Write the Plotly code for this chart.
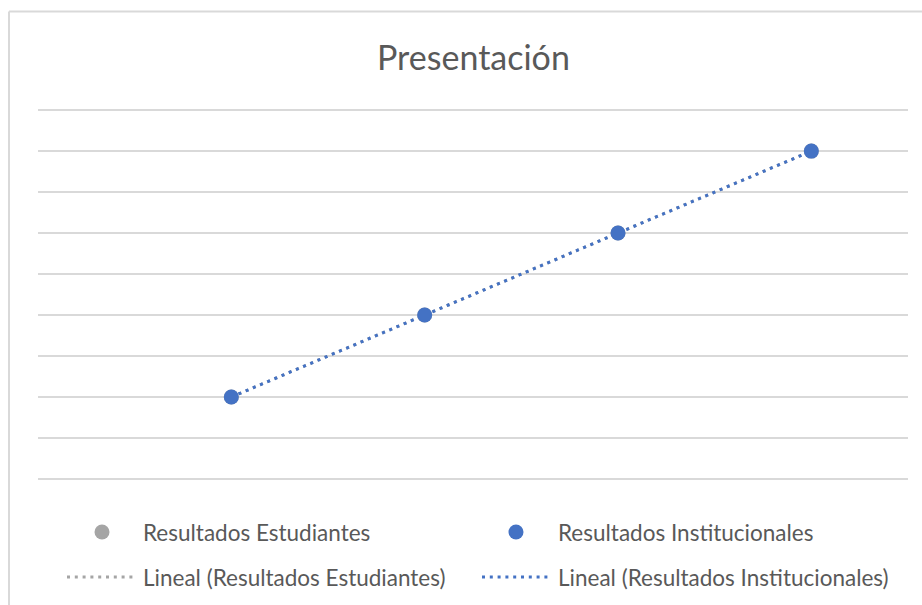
import numpy as np
import plotly.graph_objects as go

# Series data
x_vals = [1, 2, 3, 4]
estudiantes = [2, 4, 6, 8]
institucionales = [2, 4, 6, 8]

title_text = "Presentación"
series_names = ["Resultados Estudiantes", "Resultados Institucionales"]
trend_names = ["Lineal (Resultados Estudiantes)", "Lineal (Resultados Institucionales)"]

GREY = "#A5A5A5"
BLUE = "#4472C4"
TEXT = "#595959"
GRID = "#D9D9D9"
FONT = "Lato"

W, H = 922, 605
Y_TOP = 9.1
ML, MR, MT, MB = 38, 14, 106, 126
PW, PH = W - ML - MR, H - MT - MB


def px_x(p):
    return (p - ML) / PW


def px_y(p):
    return (H - MB - p) / PH


def trend(xs, ys):
    slope, intercept = np.polyfit(xs, ys, 1)
    tx = np.array([min(xs), max(xs)], dtype=float)
    return tx, slope * tx + intercept


fig = go.Figure()

dash = "3px,4.8px"
for ys, color in ((estudiantes, GREY), (institucionales, BLUE)):
    tx, ty = trend(x_vals, ys)
    fig.add_trace(go.Scatter(x=tx, y=ty, mode="lines",
                             line=dict(color=color, width=3, dash=dash),
                             hoverinfo="skip", showlegend=False))

for ys, color, name in ((estudiantes, GREY, series_names[0]),
                        (institucionales, BLUE, series_names[1])):
    fig.add_trace(go.Scatter(x=x_vals, y=ys, mode="markers", name=name,
                             marker=dict(color=color, size=15),
                             showlegend=False))

shapes = []
annotations = []

# chart frame (left and top edges)
shapes.append(dict(type="line", xref="paper", yref="paper",
                   x0=px_x(9), x1=px_x(930), y0=px_y(11.5), y1=px_y(11.5),
                   line=dict(color=GRID, width=2)))
shapes.append(dict(type="line", xref="paper", yref="paper",
                   x0=px_x(9), x1=px_x(9), y0=px_y(11.5), y1=px_y(620),
                   line=dict(color=GRID, width=2)))

# legend
legend_items = [
    (102, 532, "marker", GREY, series_names[0], 144),
    (516, 532, "marker", BLUE, series_names[1], 559),
    ((67, 137), 577, "line", GREY, trend_names[0], 144),
    ((482, 551), 577, "line", BLUE, trend_names[1], 559),
]
for xpos, ypos, kind, color, label, tx in legend_items:
    if kind == "marker":
        shapes.append(dict(type="circle", xref="paper", yref="paper",
                           xsizemode="pixel", ysizemode="pixel",
                           xanchor=px_x(xpos), yanchor=px_y(ypos),
                           x0=-7.5, x1=7.5, y0=-7.5, y1=7.5,
                           fillcolor=color, line=dict(width=0)))
    else:
        shapes.append(dict(type="line", xref="paper", yref="paper",
                           x0=px_x(xpos[0]), x1=px_x(xpos[1]),
                           y0=px_y(ypos), y1=px_y(ypos),
                           line=dict(color=color, width=3, dash=dash)))
    annotations.append(dict(text=label, xref="paper", yref="paper",
                            x=px_x(tx - 3), y=px_y(ypos), xanchor="left",
                            yanchor="middle", showarrow=False,
                            font=dict(family=FONT, size=22.5, color=TEXT)))

annotations.append(dict(text=title_text, xref="paper", yref="paper",
                        x=px_x(473), y=px_y(57), xanchor="center",
                        yanchor="middle", showarrow=False,
                        font=dict(family=FONT, size=34, color=TEXT)))

fig.update_layout(
    width=W, height=H,
    margin=dict(l=ML, r=MR, t=MT, b=MB),
    paper_bgcolor="white", plot_bgcolor="white",
    shapes=shapes, annotations=annotations,
    showlegend=False,
    xaxis=dict(range=[0, 4.5], showgrid=False, zeroline=False,
               showticklabels=False, showline=False, ticks=""),
    yaxis=dict(range=[0, Y_TOP], dtick=1, tick0=0, showgrid=True,
               gridcolor=GRID, gridwidth=1.6, zeroline=True,
               zerolinecolor=GRID, zerolinewidth=1.6,
               showticklabels=False, showline=False, ticks=""),
)

fig.write_html("out.html")
